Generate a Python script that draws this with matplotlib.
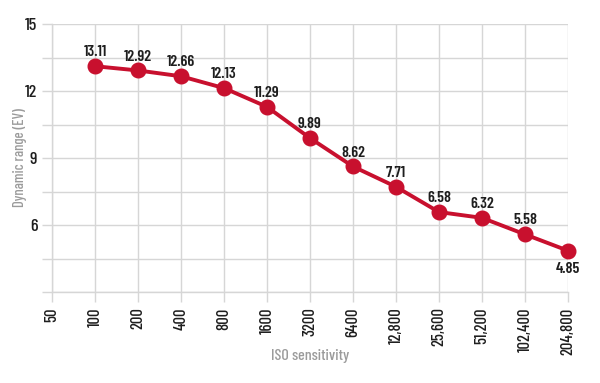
import matplotlib
matplotlib.use("Agg")
import matplotlib.pyplot as plt
from matplotlib.ticker import MultipleLocator

iso_labels = ["50", "100", "200", "400", "800", "1600", "3200", "6400",
              "12,800", "25,600", "51,200", "102,400", "204,800"]
point_iso = ["100", "200", "400", "800", "1600", "3200", "6400",
             "12,800", "25,600", "51,200", "102,400", "204,800"]
dr_values = [13.11, 12.92, 12.66, 12.13, 11.29, 9.89, 8.62, 7.71, 6.58, 6.32, 5.58, 4.85]

plt.rcParams['font.family'] = ['Barlow Condensed', 'DejaVu Sans']

red = "#c8102e"
grid_c = "#d6d6d6"
text_grey = "#9b9b9b"
dark = "#1e1e1e"

fig = plt.figure(figsize=(6.0, 3.83), dpi=100)
ax = fig.add_axes([52/600, 1-292/383, (568-52)/600, (292-24)/383])

xpos = [iso_labels.index(s) for s in point_iso]
ax.plot(xpos, dr_values, color=red, lw=2.8, marker='o', ms=10.5, zorder=3, clip_on=False)

for i, (x, v) in enumerate(zip(xpos, dr_values)):
    if i == len(xpos) - 1:
        ax.annotate(f"{v:.2f}", (x, v), xytext=(0, -8), textcoords='offset points',
                    ha='center', va='top', fontsize=11.5, fontweight='semibold', color=dark)
    else:
        ax.annotate(f"{v:.2f}", (x, v), xytext=(0, 5), textcoords='offset points',
                    ha='center', va='bottom', fontsize=11.5, fontweight='semibold', color=dark)

ax.set_xlim(0, len(iso_labels) - 1)
ax.set_ylim(3, 15)
ax.set_xticks(range(len(iso_labels)))
ax.set_xticklabels(iso_labels, rotation=90, fontsize=12, color=dark, fontweight='medium')
ax.set_yticks([6, 9, 12, 15])
ax.set_yticklabels(["6", "9", "12", "15"], fontsize=13, color=dark, fontweight='medium')
ax.yaxis.set_minor_locator(MultipleLocator(1.5))
ax.tick_params(axis='y', colors=grid_c, labelcolor=dark, length=7, width=1, pad=3.5)
ax.tick_params(axis='y', which='minor', colors=grid_c, length=7, width=1)
ax.tick_params(axis='x', colors=grid_c, labelcolor=dark, length=7, width=1, pad=4)
ax.grid(True, which='both', color=grid_c, lw=1)
ax.set_axisbelow(True)
for s in ['top', 'right']:
    ax.spines[s].set_visible(False)
for s in ['left', 'bottom']:
    ax.spines[s].set_color(grid_c)
    ax.spines[s].set_linewidth(1)

fig.text(20/600, 1-158/383, "Dynamic range (EV)", rotation=90, ha='center', va='center',
         fontsize=10.5, color=text_grey, fontweight='medium')
fig.text(310/600, 1-356/383, "ISO sensitivity", ha='center', va='center',
         fontsize=11.5, color=text_grey, fontweight='medium')

fig.savefig("out.png", dpi=100)
